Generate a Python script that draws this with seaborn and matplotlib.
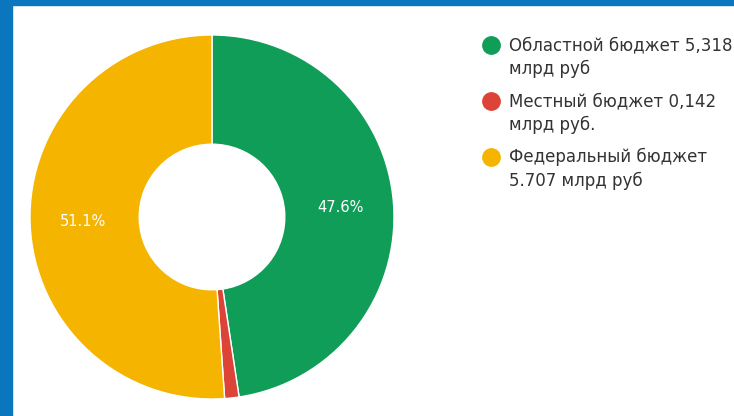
import matplotlib
matplotlib.use("Agg")
import matplotlib.pyplot as plt
from matplotlib.lines import Line2D
from matplotlib.patches import Rectangle
import seaborn as sns

# Данные
labels = ["Областной бюджет 5,318\nмлрд руб",
          "Местный бюджет 0,142\nмлрд руб.",
          "Федеральный бюджет\n5.707 млрд руб"]
values = [5.318, 0.142, 5.707]
colors = ["#0f9d58", "#db4437", "#f4b400"]

sns.set_theme(style="white")
plt.rcParams["font.family"] = ["DejaVu Sans"]

W, H = 734, 416
fig = plt.figure(figsize=(W / 100, H / 100), dpi=100)
fig.patch.set_facecolor("white")

# пирог: центр (212, 217), радиус 182 px
cx, cy, r = 212, 217, 182
ax = fig.add_axes([(cx - r) / W, (H - cy - r) / H, 2 * r / W, 2 * r / H])

def fmt(p):
    return f"{p:.1f}%" if p > 5 else ""

wedges, texts, autotexts = ax.pie(
    values, colors=colors, startangle=90, counterclock=False,
    autopct=fmt, pctdistance=0.71,
    wedgeprops=dict(width=0.6, edgecolor="white", linewidth=1),
    textprops=dict(color="white", fontsize=10.5))
ax.set_xlim(-1, 1)
ax.set_ylim(-1, 1)
ax.axis("off")

# легенда справа
x_dot, x_txt = 491, 509
y0, step, line_h = 45, 56, 24
for i, (lab, col) in enumerate(zip(labels, colors)):
    y = y0 + i * step
    fig.add_artist(Line2D([x_dot / W], [1 - y / H], marker="o", markersize=12.5,
                          color=col, linestyle="none", transform=fig.transFigure))
    for j, line in enumerate(lab.split("\n")):
        fig.text(x_txt / W, 1 - (y + j * line_h) / H, line, fontsize=12,
                 color="#333333", va="center", ha="left")

# синяя рамка слева и сверху
fig.add_artist(Rectangle((0, 0), 12 / W, 1, color="#0a76bd",
                         transform=fig.transFigure, zorder=10))
fig.add_artist(Rectangle((0, 1 - 5 / H), 1, 5 / H, color="#0a76bd",
                         transform=fig.transFigure, zorder=10))

fig.savefig("out.png", dpi=100)
